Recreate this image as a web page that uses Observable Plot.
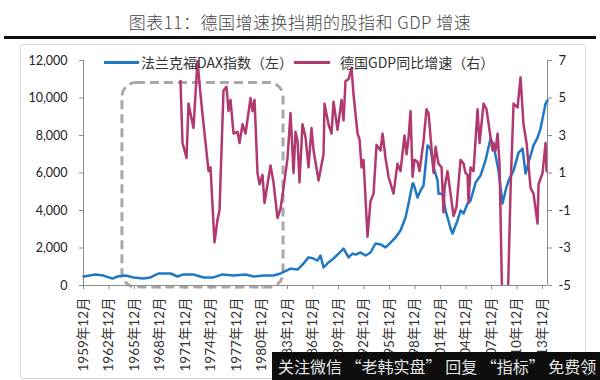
<!DOCTYPE html>
<html>
<head>
<meta charset="utf-8">
<script src="https://cdn.jsdelivr.net/npm/d3@7"></script>
<script src="https://cdn.jsdelivr.net/npm/@observablehq/plot@0.6"></script>
<style>
  html, body { margin: 0; padding: 0; background: #fff; }
  #wrap { position: relative; width: 600px; height: 380px; overflow: hidden; font-family: Lato, "Noto Sans CJK SC", sans-serif; }
  #title { position: absolute; left: 0; width: 600px; top: 9px; text-align: center; font-family: "Noto Sans CJK SC", sans-serif; font-size: 17px; font-weight: 300; color: #444; letter-spacing: 0.5px; }
  #rule { position: absolute; left: 4px; width: 592px; top: 36px; height: 2.5px; background: #111; }
  #frame { position: absolute; left: 20px; top: 44px; width: 564px; height: 333px; border: 1px solid #d6d6d6; border-radius: 3px; }
  #chart { position: absolute; left: 0; top: 0; }
  .leg { position: absolute; font-size: 14px; color: #333; top: 52px; font-family: "Noto Sans CJK SC", sans-serif; white-space: nowrap; }
  .legline { position: absolute; height: 2.5px; top: 61px; }
  #wm { position: absolute; left: 272px; top: 352px; width: 328px; height: 28px; background: #0d0d0d; color: #e6e6e6; font-family: "Noto Sans CJK SC", sans-serif; font-size: 16px; line-height: 28px; padding-left: 6px; box-sizing: border-box; white-space: nowrap; }
</style>
</head>
<body>
<div id="wrap">
  <div id="frame"></div>
  <div id="title">图表11：德国增速换挡期的股指和 GDP 增速</div>
  <div id="rule"></div>
  <div id="chart"></div>
  <div id="legend"></div>
  <div id="wm">关注微信 “老韩实盘” 回复 “指标” 免费领</div>
</div>
<script>
// ---- data (decimal years) ----
const seriesNames = ["法兰克福DAX指数（左）", "德国GDP同比增速（右）"];
const seriesColors = ["#1f78c4", "#b2396f"];

const daxTime = [1959.92,1961.33,1962.27,1963.33,1963.92,1964.86,1965.8,1966.98,1967.8,1968.74,1970.16,1970.98,1971.68,1972.86,1974.04,1975.21,1976.27,1977.57,1978.98,1979.92,1981.1,1982.27,1983.1,1984.27,1985.1,1985.8,1986.39,1986.98,1987.45,1987.8,1988.16,1988.74,1989.33,1989.92,1990.51,1991.1,1991.57,1991.92,1992.51,1993.1,1993.68,1994.27,1994.86,1995.45,1996.04,1996.63,1997.21,1997.8,1998.16,1998.63,1998.74,1999.21,1999.57,1999.92,2000.39,2000.74,2001.1,2001.57,2001.68,2002.16,2002.51,2003.1,2003.33,2003.92,2004.27,2004.63,2005.1,2005.45,2006.04,2006.63,2007.21,2007.8,2008.16,2008.39,2008.74,2009.21,2009.57,2009.92,2010.51,2011.1,2011.57,2011.92,2012.27,2012.86,2013.33,2013.68,2014.27,2014.5];
const daxValue = [480,590,530,370,480,530,430,370,430,640,640,480,590,590,430,430,590,530,590,480,530,530,640,900,850,1170,1500,1440,1330,1600,960,1230,1440,1700,1970,1500,1700,1650,1760,1600,1760,2240,2190,2030,2290,2560,2930,3630,4370,5440,5440,4690,5070,5330,7470,7300,6300,5600,4900,4900,4000,3040,2770,3470,4000,3840,4370,4530,5490,5870,6670,7840,7470,6930,6130,4370,5070,5600,6130,7090,7300,5970,6560,7470,7890,8370,9700,9870];

const gdpTime = [1971.33,1971.57,1972.04,1972.27,1972.86,1973.33,1973.68,1974.04,1974.63,1974.86,1975.33,1975.68,1975.92,1976.39,1976.74,1976.98,1977.21,1977.57,1978.04,1978.27,1978.63,1978.98,1979.57,1979.8,1980.04,1980.39,1980.63,1980.98,1981.21,1981.92,1982.27,1982.74,1983.1,1983.45,1983.92,1984.27,1984.63,1984.86,1985.1,1985.33,1985.68,1986.04,1986.39,1986.74,1986.98,1987.57,1988.16,1988.27,1988.74,1989.1,1989.33,1989.8,1990.27,1990.51,1990.74,1991.1,1991.45,1991.68,1992.16,1992.39,1992.63,1992.86,1993.33,1993.68,1994.04,1994.39,1994.86,1995.1,1995.45,1995.8,1996.39,1996.86,1997.21,1997.68,1997.92,1998.16,1998.39,1998.63,1998.86,1999.21,1999.45,1999.92,2000.27,2000.51,2001.1,2001.33,2001.68,2002.04,2002.27,2002.39,2002.74,2003.1,2003.45,2003.8,2004.27,2004.63,2004.86,2005.1,2005.21,2005.45,2005.8,2006.27,2006.51,2006.98,2007.33,2007.8,2008.04,2008.16,2008.39,2008.63,2008.86,2009.21,2009.8,2010.16,2010.51,2010.98,2011.33,2011.68,2012.04,2012.51,2012.86,2013.33,2013.45,2013.92,2014.27,2014.39];
const gdpValue = [5.9,2.6,1.8,4.7,3.4,7.0,5.2,3.6,1.1,1.3,-2.7,-1.5,-1.0,5.4,5.6,4.3,4.9,3.1,3.2,2.6,3.6,3.1,5.0,4.3,4.9,1.0,0.4,0.9,-0.6,1.4,0.5,-1.4,-0.9,0.2,1.8,4.2,1.0,3.2,2.7,0.5,3.6,2.9,1.3,3.4,2.2,0.6,2.0,4.7,3.6,3.1,4.8,3.3,4.9,3.8,5.9,6.0,6.6,5.2,3.1,2.8,1.3,1.7,-2.4,-0.5,-0.1,2.5,2.2,3.1,1.8,0.8,-0.1,1.5,1.1,3.0,2.0,2.9,4.3,0.8,1.7,1.6,1.1,2.7,4.4,4.2,1.0,2.4,1.5,1.3,-1.1,0.2,1.1,-0.1,-1.3,-0.8,1.7,1.5,1.0,0.9,-0.6,1.3,1.1,4.4,2.6,4.7,4.4,2.9,2.2,2.6,2.2,3.1,1.5,-6.7,-6.4,0.2,4.7,4.5,6.1,3.6,2.6,0.2,-0.1,-1.7,0.4,1.0,2.6,1.1];

const leftTicks = [0,2000,4000,6000,8000,10000,12000];
const rightTicks = [-5,-3,-1,1,3,5,7];
const tickYears = [1959,1962,1965,1968,1971,1974,1977,1980,1983,1986,1989,1992,1995,1998,2001,2004,2007,2010,2013];
const tickLabels = ["1959年12月","1962年12月","1965年12月","1968年12月","1971年12月","1974年12月","1977年12月","1980年12月","1983年12月","1986年12月","1989年12月","1992年12月","1995年12月","1998年12月","2001年12月","2004年12月","2007年12月","2010年12月","2013年12月"];
const xExtent = [1959.92, 2014.5];
// highlighted period (dashed box): years and left-axis values
const highlightYears = [1964.5, 1983.45];
const highlightRange = [-110, 10800];

// ---- helpers ----
function dy(t) { const y = Math.floor(t); return new Date(y, 0, 1 + Math.round((t - y) * 365)); }
const toLeft = v => (v + 5) * 1000; // right axis (-5..7) onto left axis (0..12000)

const dax = daxTime.map((t, i) => ({date: dy(t), value: daxValue[i]}));
const gdp = gdpTime.map((t, i) => ({date: dy(t), value: toLeft(gdpValue[i])}));
const tickDates = tickYears.map(y => new Date(y, 11, 1));
const labelOf = new Map(tickDates.map((d, i) => [+d, tickLabels[i]]));
const x0 = dy(xExtent[0]), x1 = dy(xExtent[1]);

const chart = Plot.plot({
  width: 600, height: 380,
  marginTop: 60, marginBottom: 95, marginLeft: 83, marginRight: 53,
  style: {fontFamily: 'Lato, "Noto Sans CJK SC", sans-serif', fontSize: "12.5px", color: "#222", background: "transparent"},
  x: {type: "time", domain: [x0, x1]},
  y: {domain: [0, 12000]},
  marks: [
    Plot.rect([0], {x1: () => dy(highlightYears[0]), x2: () => dy(highlightYears[1]), y1: () => highlightRange[0], y2: () => highlightRange[1],
      fill: "none", stroke: "#a8a8a8", strokeWidth: 3, strokeDasharray: "9,5", rx: 14}),
    Plot.ruleY([0], {x1: x0, x2: x1, stroke: "#8c8c8c", strokeWidth: 1}),
    Plot.ruleX([x0], {y1: 0, y2: 12000, stroke: "#8c8c8c", strokeWidth: 1}),
    Plot.ruleX([x1], {y1: 0, y2: 12000, stroke: "#8c8c8c", strokeWidth: 1}),
    Plot.line(dax, {x: "date", y: "value", stroke: seriesColors[0], strokeWidth: 2.5, curve: "linear"}),
    Plot.line(gdp, {x: "date", y: "value", stroke: seriesColors[1], strokeWidth: 2.5, clip: true}),
    Plot.axisY({anchor: "left", ticks: leftTicks, tickFormat: d3.format(","), tickSize: 4, tickPadding: 12, label: null, stroke: "#8c8c8c", fill: "#222"}),
    Plot.axisY({anchor: "right", ticks: leftTicks, tickFormat: d => String(rightTicks[leftTicks.indexOf(d)]), tickSize: 4, tickPadding: 7, label: null, stroke: "#8c8c8c", fill: "#222", fontSize: 13}),
    Plot.axisX({ticks: tickDates, tickFormat: d => labelOf.get(+d), tickRotate: -90, tickSize: 4, tickPadding: 8, label: null, stroke: "#8c8c8c", fill: "#333", fontSize: 13.5})
  ]
});
document.getElementById("chart").appendChild(chart);

// legend
const legend = document.getElementById("legend");
const legItems = [{x: 104, w: 35, tx: 141}, {x: 294, w: 36, tx: 340}];
seriesNames.forEach((name, i) => {
  const l = document.createElement("div");
  l.className = "legline"; l.style.left = legItems[i].x + "px"; l.style.width = legItems[i].w + "px"; l.style.background = seriesColors[i];
  legend.appendChild(l);
  const t = document.createElement("div");
  t.className = "leg"; t.style.left = legItems[i].tx + "px"; t.textContent = name;
  legend.appendChild(t);
});
</script>
</body>
</html>
